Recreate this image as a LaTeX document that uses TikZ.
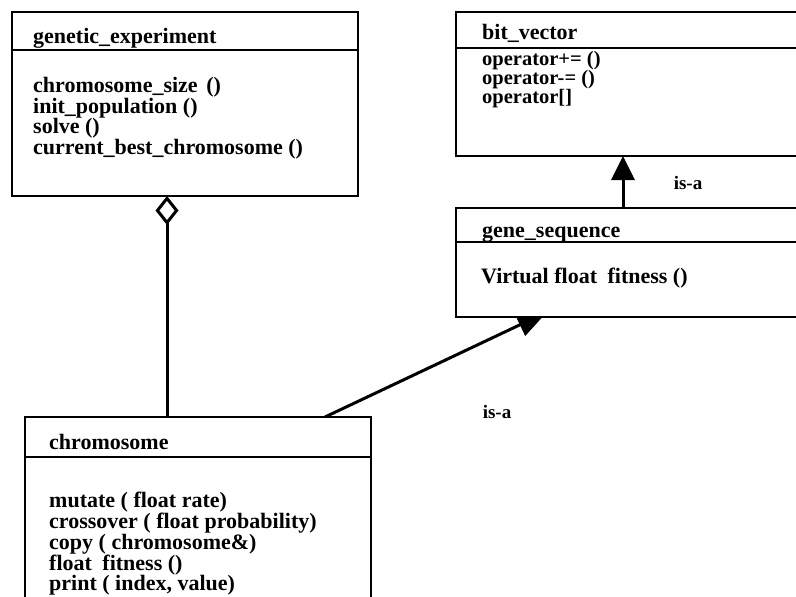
\documentclass[tikz,border=0pt]{standalone}
\usepackage{fontspec}
\setmainfont{Liberation Serif}
\usetikzlibrary{arrows.meta,backgrounds}
\begin{document}
\begin{tikzpicture}[x=1pt,y=-1pt,
  classbox/.style={draw, line width=2.8pt, fill=white, rectangle, inner sep=0pt, outer sep=0pt, anchor=north west},
  divider/.style={line width=2.2pt},
  memb/.style={anchor=base west, inner sep=0pt, font=\fontsize{22}{22}\selectfont\bfseries},
  opmemb/.style={memb, font=\fontsize{20.5}{20.5}\selectfont\bfseries},
  isalabel/.style={anchor=center, inner sep=0pt, font=\fontsize{19}{19}\selectfont\bfseries},
  link/.style={line width=3pt},
]
\useasboundingbox (0,0) rectangle (796,597);
\clip (0,0) rectangle (796,597);

% class boxes
\node[classbox, minimum width=346pt, minimum height=184pt] (ge) at (12,12) {};
\node[classbox, minimum width=400pt, minimum height=144pt] (bv) at (456,12) {};
\node[classbox, minimum width=400pt, minimum height=109pt] (gs) at (456,208) {};
\node[classbox, minimum width=346pt, minimum height=250pt] (ch) at (25,417) {};

% header dividers
\draw[divider] ([yshift=-38pt]ge.north west) -- ([yshift=-38pt]ge.north east);
\draw[divider] ([yshift=-36pt]bv.north west) -- ([yshift=-36pt]bv.north east);
\draw[divider] ([yshift=-34pt]gs.north west) -- ([yshift=-34pt]gs.north east);
\draw[divider] ([yshift=-40pt]ch.north west) -- ([yshift=-40pt]ch.north east);

% genetic_experiment
\node[memb] (ge-t)  at ([xshift=21pt,yshift=-31pt]ge.north west) {genetic\_experiment};
\node[memb] (ge-m1) at ([xshift=21pt,yshift=-80.5pt]ge.north west) {chromosome\_size\hspace{3pt} ()};
\node[memb] (ge-m2) at ([xshift=21pt,yshift=-101pt]ge.north west) {init\_population ()};
\node[memb] (ge-m3) at ([xshift=21pt,yshift=-121.5pt]ge.north west) {solve ()};
\node[memb] (ge-m4) at ([xshift=21pt,yshift=-142pt]ge.north west) {current\_best\_chromosome ()};

% bit_vector
\node[memb] (bv-t)  at ([xshift=26pt,yshift=-27pt]bv.north west) {bit\_vector};
\node[opmemb] (bv-m1) at ([xshift=26pt,yshift=-53pt]bv.north west) {operator+= ()};
\node[opmemb] (bv-m2) at ([xshift=26pt,yshift=-72pt]bv.north west) {operator-= ()};
\node[opmemb] (bv-m3) at ([xshift=26pt,yshift=-91pt]bv.north west) {operator[]};

% gene_sequence
\node[memb] (gs-t)  at ([xshift=26pt,yshift=-29pt]gs.north west) {gene\_sequence};
\node[memb] (gs-m1) at ([xshift=25pt,yshift=-75pt]gs.north west) {Virtual float\hspace{5pt} fitness ()};

% chromosome
\node[memb] (ch-t)  at ([xshift=24pt,yshift=-32pt]ch.north west) {chromosome};
\node[memb] (ch-m1) at ([xshift=24pt,yshift=-90pt]ch.north west) {mutate ( float rate)};
\node[memb] (ch-m2) at ([xshift=24pt,yshift=-111pt]ch.north west) {crossover ( float probability)};
\node[memb] (ch-m3) at ([xshift=24pt,yshift=-132pt]ch.north west) {copy ( chromosome\&)};
\node[memb] (ch-m4) at ([xshift=24pt,yshift=-153pt]ch.north west) {float\hspace{5pt} fitness ()};
\node[memb] (ch-m5) at ([xshift=24pt,yshift=-173.5pt]ch.north west) {print ( index, value)};

% relation labels
\node[isalabel] (isa1) at (688,183) {is-a};
\node[isalabel] (isa2) at (497,412) {is-a};

% relations, drawn beneath the boxes
\begin{pgfonlayer}{background}
\draw[link, {Diamond[open, length=29pt, width=23pt]}-]
  ([xshift=155pt]ge.south west) -- ([xshift=142pt]ch.north west);
\draw[link, -{Triangle[length=24pt, width=23pt]}]
  ([xshift=167pt]gs.north west) -- ([xshift=167pt]bv.south west);
\draw[link, -{Triangle[length=30pt, width=24pt]}]
  ([xshift=300pt]ch.north west) -- ([xshift=91pt,yshift=5pt]gs.south west);
\end{pgfonlayer}
\end{tikzpicture}
\end{document}
